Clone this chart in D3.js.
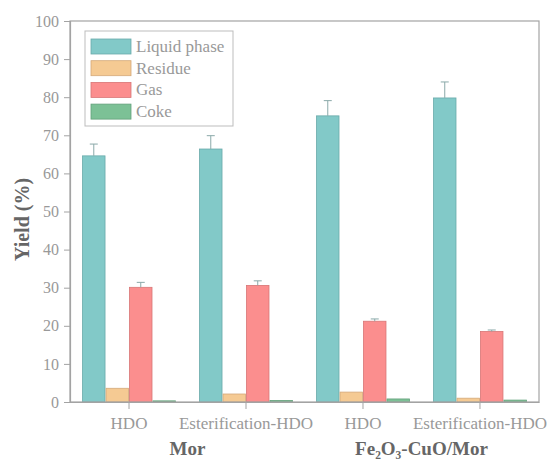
<!DOCTYPE html>
<html>
<head>
<meta charset="utf-8">
<script src="https://cdn.jsdelivr.net/npm/d3@7/dist/d3.min.js"></script>
<style>
  html, body { margin: 0; padding: 0; background: #fff; }
  svg { display: block; font-family: "Liberation Serif", "DejaVu Serif", serif; }
</style>
</head>
<body>
<svg id="chart" width="551" height="459"></svg>
<script>
// Yield of each product phase per treatment, grouped by catalyst
const categories = ["HDO", "Esterification-HDO", "HDO", "Esterification-HDO"];
const catalysts = ["Mor", "Fe\u2082O\u2083-CuO/Mor"];
const catalystOfCategory = [0, 0, 1, 1];
const seriesNames = ["Liquid phase", "Residue", "Gas", "Coke"];
const liquid = [64.6, 66.4, 75.1, 79.8];
const residue = [3.6, 2.1, 2.6, 1.0];
const gas = [30.1, 30.6, 21.2, 18.5];
const coke = [0.3, 0.4, 0.8, 0.5];
const liquidErr = [3.1, 3.5, 4.0, 4.2];
const residueErr = [0, 0, 0, 0];
const gasErr = [1.3, 1.2, 0.6, 0.4];
const cokeErr = [0, 0, 0, 0];
const yTicks = [0, 10, 20, 30, 40, 50, 60, 70, 80, 90, 100];

const colors = ["#82c9c8", "#f5ca93", "#fb8e8e", "#7cc196"];
const edges = ["#69aaaa", "#d4a979", "#d87676", "#63a07a"];
const values = [liquid, residue, gas, coke];
const errs = [liquidErr, residueErr, gasErr, cokeErr];

const serif = "'Liberation Serif', 'DejaVu Serif', serif";
const svg = d3.select("#chart");
const plotLeft = 70, plotRight = 539, plotTop = 21, plotBottom = 402;
const axisColor = "#a3a3a3";
const textColor = "#999999";
const titleColor = "#666666";

const y = d3.scaleLinear().domain([0, 100]).range([plotBottom, plotTop]);
const x0 = d3.scaleBand().domain(d3.range(categories.length))
  .range([plotLeft, plotRight]).paddingInner(0.197).paddingOuter(0.103);
const x1 = d3.scaleBand().domain(d3.range(seriesNames.length))
  .range([0, x0.bandwidth()]);

// bars
const groups = svg.append("g").selectAll("g")
  .data(d3.range(categories.length)).join("g")
  .attr("transform", i => `translate(${x0(i)},0)`);

groups.selectAll("rect")
  .data(i => seriesNames.map((s, k) => ({ k, v: values[k][i], e: errs[k][i] })))
  .join("rect")
  .attr("x", d => x1(d.k) + 0.5)
  .attr("width", x1.bandwidth() - 1)
  .attr("y", d => y(d.v))
  .attr("height", d => y(0) - y(d.v))
  .attr("fill", d => colors[d.k])
  .attr("stroke", d => edges[d.k])
  .attr("stroke-width", 0.8);

// error bars (upper half)
const eb = groups.selectAll("g.err")
  .data(i => seriesNames.map((s, k) => ({ k, v: values[k][i], e: errs[k][i] })).filter(d => d.e > 0))
  .join("g").attr("class", "err")
  .attr("stroke", "#8aa9a9").attr("stroke-width", 1);
eb.append("line")
  .attr("x1", d => x1(d.k) + x1.bandwidth() / 2)
  .attr("x2", d => x1(d.k) + x1.bandwidth() / 2)
  .attr("y1", d => y(d.v)).attr("y2", d => y(d.v + d.e));
eb.append("line")
  .attr("x1", d => x1(d.k) + x1.bandwidth() / 2 - 4)
  .attr("x2", d => x1(d.k) + x1.bandwidth() / 2 + 4)
  .attr("y1", d => y(d.v + d.e)).attr("y2", d => y(d.v + d.e));

// frame
svg.append("rect")
  .attr("x", plotLeft).attr("y", plotTop)
  .attr("width", plotRight - plotLeft).attr("height", plotBottom - plotTop)
  .attr("fill", "none").attr("stroke", axisColor).attr("stroke-width", 1.2);

// y axis
const yAxis = svg.append("g")
  .attr("transform", `translate(${plotLeft},0)`)
  .call(d3.axisLeft(y).tickValues(yTicks).tickSize(6).tickPadding(5));
yAxis.attr("font-family", serif);
yAxis.select(".domain").attr("stroke", axisColor).attr("stroke-width", 1.2);
yAxis.selectAll(".tick line").attr("stroke", axisColor);
yAxis.selectAll(".tick text")
  .attr("fill", textColor)
  .attr("font-family", serif)
  .attr("font-size", 16);

// x axis
const xAxis = svg.append("g")
  .attr("transform", `translate(0,${plotBottom})`)
  .call(d3.axisBottom(x0).tickFormat(i => categories[i]).tickSize(7).tickPadding(8).tickSizeOuter(0));
xAxis.attr("font-family", serif);
xAxis.select(".domain").attr("stroke", axisColor).attr("stroke-width", 1.2);
xAxis.selectAll(".tick line").attr("stroke", axisColor);
xAxis.selectAll(".tick text")
  .attr("fill", textColor)
  .attr("font-family", serif)
  .attr("font-size", 17);

// catalyst labels under each pair of categories
catalysts.forEach((name, c) => {
  const idx = d3.range(categories.length).filter(i => catalystOfCategory[i] === c);
  const cx = d3.mean(idx, i => x0(i) + x0.bandwidth() / 2);
  svg.append("text")
    .attr("x", cx).attr("y", 455)
    .attr("text-anchor", "middle")
    .attr("fill", titleColor)
    .attr("font-family", serif)
    .attr("font-weight", "bold")
    .attr("font-size", 19)
    .text(name);
});

// y axis title
svg.append("text")
  .attr("transform", `translate(29,${(plotTop + plotBottom) / 2 + 8}) rotate(-90)`)
  .attr("text-anchor", "middle")
  .attr("fill", titleColor)
  .attr("font-family", serif)
  .attr("font-weight", "bold")
  .attr("font-size", 20)
  .text("Yield (%)");

// legend
const lg = svg.append("g").attr("transform", "translate(85,31)");
lg.append("rect")
  .attr("width", 148).attr("height", 95)
  .attr("fill", "#fff").attr("stroke", "#bdbdbd").attr("stroke-width", 1);
seriesNames.forEach((s, k) => {
  const row = lg.append("g").attr("transform", `translate(6,${8 + k * 21.7})`);
  row.append("rect")
    .attr("width", 40).attr("height", 15)
    .attr("fill", colors[k]).attr("stroke", edges[k]).attr("stroke-width", 0.8);
  row.append("text")
    .attr("x", 45).attr("y", 13)
    .attr("fill", textColor)
    .attr("font-family", serif)
    .attr("font-size", 17)
    .text(s);
});
</script>
</body>
</html>
